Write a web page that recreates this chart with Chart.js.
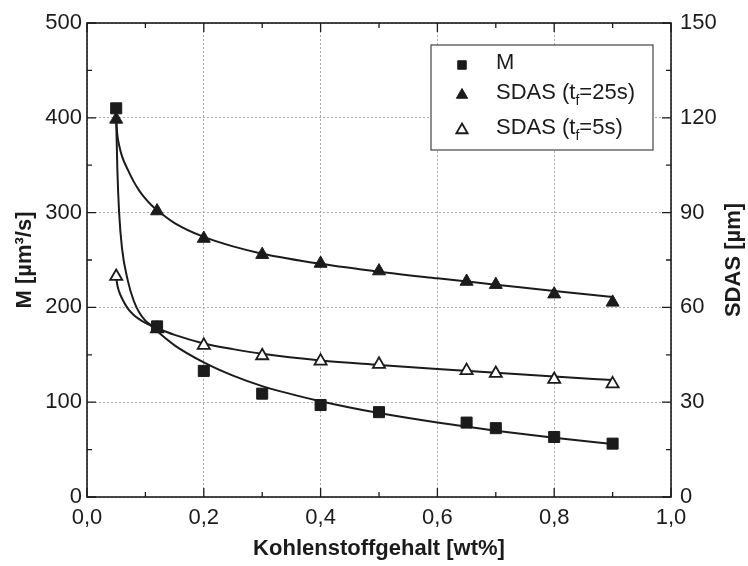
<!DOCTYPE html>
<html>
<head>
<meta charset="utf-8">
<script src="https://cdn.jsdelivr.net/npm/chart.js@4"></script>
<style>
  html, body { margin: 0; padding: 0; background: #fff; }
</style>
</head>
<body>
<canvas id="chart" width="748" height="566"></canvas>
<script>
// Kohlenstoffgehalt [wt%]
const carbon = [0.05, 0.12, 0.2, 0.3, 0.4, 0.5, 0.65, 0.7, 0.8, 0.9];
// M [µm³/s] (linke Achse)
const mValues = [410, 180, 133, 109, 97, 89.5, 78.5, 72.6, 63.3, 56.3];
// SDAS [µm] (rechte Achse)
const sdas25 = [119.5, 90.5, 81.8, 76.7, 73.9, 71.5, 68.2, 67.2, 64.2, 61.6];
const sdas5 = [69.8, 53.2, 48, 44.7, 43, 42, 40, 39.1, 37.2, 35.8];

// Fitkurven, abgetastet
const fitX = [0.05, 0.052, 0.055, 0.06, 0.07, 0.08, 0.09, 0.1, 0.11, 0.12, 0.15, 0.2, 0.25, 0.3, 0.4, 0.5, 0.6, 0.7, 0.8, 0.9];
const fitM = [398, 345, 300, 262, 228, 207, 194, 186, 181, 175, 160, 142, 128, 117, 101, 88.5, 78.5, 70, 62.5, 56];
const fit25 = [119.5, 114.5, 111.3, 107.8, 103.5, 99.8, 96.8, 94.4, 92.4, 90.8, 86.7, 82.3, 79.3, 77, 73.8, 71.3, 69.2, 67.2, 65.2, 63.3];
const fit5 = [69.5, 67, 65, 62.8, 59.6, 57.6, 56.2, 55.1, 54.2, 53.4, 51.3, 48.6, 46.8, 45.3, 43.2, 41.8, 40.5, 39.3, 38.1, 37];

const xTicks = [0, 0.2, 0.4, 0.6, 0.8, 1.0];

const FONT = '"Liberation Sans", Arial, sans-serif';
const INK = '#1b1b1b';

const pts = (xs, ys) => xs.map((x, i) => ({ x: x, y: ys[i] }));

const fitLine = (data, axis) => ({
    type: 'line',
    data: data,
    yAxisID: axis,
    showLine: true,
    borderColor: INK,
    borderWidth: 2,
    pointRadius: 0,
    cubicInterpolationMode: 'monotone',
    fill: false,
    order: 2
});

// Rahmen, Ticks nach innen, Legende, rechter Achsentitel
const decor = {
    id: 'decor',
    afterDatasetsDraw(chart) {
        const ctx = chart.ctx;
        const a = chart.chartArea;
        const sx = chart.scales.x, sy = chart.scales.y;

        // Legende
        const lx = 431, ly = 45, lw = 222, lh = 105;
        ctx.save();
        ctx.fillStyle = '#fff';
        ctx.fillRect(lx, ly, lw, lh);
        ctx.strokeStyle = '#444';
        ctx.lineWidth = 1.2;
        ctx.strokeRect(lx, ly, lw, lh);

        const rows = [
            { y: 63, style: 'rect', fill: INK, bw: 1, r: 6, txt: ['M'] },
            { y: 93, style: 'triangle', fill: INK, bw: 1, r: 6.5, txt: ['SDAS (t', 'f', '=25s)'] },
            { y: 128, style: 'triangle', fill: '#fff', bw: 1.8, r: 6.5, txt: ['SDAS (t', 'f', '=5s)'] }
        ];
        rows.forEach(row => {
            ctx.fillStyle = row.fill;
            ctx.strokeStyle = INK;
            ctx.lineWidth = row.bw;
            Chart.helpers.drawPoint(ctx, { pointStyle: row.style, radius: row.r, borderWidth: row.bw }, 462, row.y + 2);
            ctx.fillStyle = INK;
            ctx.textBaseline = 'middle';
            ctx.textAlign = 'left';
            let x = 496;
            row.txt.forEach((t, i) => {
                if (i === 1) {
                    ctx.font = '14px ' + FONT;
                    ctx.fillText(t, x, row.y + 8);
                } else {
                    ctx.font = '22px ' + FONT;
                    ctx.fillText(t, x, row.y);
                }
                x += ctx.measureText(t).width;
            });
        });

        // Rahmen
        ctx.strokeStyle = INK;
        ctx.lineWidth = 1.6;
        ctx.strokeRect(a.left, a.top, a.right - a.left, a.bottom - a.top);

        // Ticks
        ctx.lineWidth = 1.3;
        ctx.beginPath();
        for (let v = 0; v <= 1.0001; v += 0.1) {
            const px = sx.getPixelForValue(v);
            const len = Math.round(v * 10) % 2 === 0 ? 9 : 5;
            ctx.moveTo(px, a.bottom); ctx.lineTo(px, a.bottom - len);
            ctx.moveTo(px, a.top); ctx.lineTo(px, a.top + len);
        }
        for (let v = 0; v <= 500; v += 50) {
            const py = sy.getPixelForValue(v);
            const len = v % 100 === 0 ? 9 : 5;
            ctx.moveTo(a.left, py); ctx.lineTo(a.left + len, py);
        }
        const sy2 = chart.scales.y2;
        for (let v = 0; v <= 150; v += 15) {
            const py = sy2.getPixelForValue(v);
            const len = v % 30 === 0 ? 9 : 5;
            ctx.moveTo(a.right, py); ctx.lineTo(a.right - len, py);
        }
        ctx.stroke();

        // rechter Achsentitel, von unten nach oben gelesen
        ctx.translate(734, (a.top + a.bottom) / 2);
        ctx.rotate(-Math.PI / 2);
        ctx.font = 'bold 22px ' + FONT;
        ctx.textAlign = 'center';
        ctx.textBaseline = 'middle';
        ctx.fillStyle = INK;
        ctx.fillText('SDAS [µm]', 0, 0);
        ctx.restore();
    }
};

const gridOpts = { color: '#a8a8a8', lineWidth: 1, drawTicks: false };

new Chart(document.getElementById('chart'), {
    type: 'scatter',
    data: {
        datasets: [
            {
                label: 'M',
                data: pts(carbon, mValues),
                yAxisID: 'y',
                pointStyle: 'rect',
                pointRadius: 7.8,
                backgroundColor: INK,
                borderColor: INK,
                borderWidth: 1,
                order: 0
            },
            {
                label: 'SDAS (tf=25s)',
                data: pts(carbon, sdas25),
                yAxisID: 'y2',
                pointStyle: 'triangle',
                pointRadius: 7.5,
                backgroundColor: INK,
                borderColor: INK,
                borderWidth: 1,
                order: 0
            },
            {
                label: 'SDAS (tf=5s)',
                data: pts(carbon, sdas5),
                yAxisID: 'y2',
                pointStyle: 'triangle',
                pointRadius: 7,
                backgroundColor: '#fff',
                borderColor: INK,
                borderWidth: 1.8,
                order: 1
            },
            fitLine(pts(fitX, fitM), 'y'),
            fitLine(pts(fitX, fit25), 'y2'),
            fitLine(pts(fitX, fit5), 'y2')
        ]
    },
    options: {
        responsive: false,
        animation: false,
        events: [],
        layout: { padding: { top: 23 } },
        plugins: { legend: { display: false }, tooltip: { enabled: false } },
        scales: {
            x: {
                type: 'linear',
                min: 0, max: 1,
                afterFit(s) { s.height = 69; },
                afterBuildTicks(s) { s.ticks = xTicks.map(v => ({ value: v })); },
                grid: gridOpts,
                border: { display: false, dash: [2, 2] },
                ticks: {
                    padding: 8,
                    color: INK,
                    font: { family: FONT, size: 22 },
                    callback: v => v.toFixed(1).replace('.', ',')
                },
                title: {
                    display: true,
                    text: 'Kohlenstoffgehalt [wt%]',
                    color: INK,
                    font: { family: FONT, size: 22, weight: 'bold' },
                    padding: { top: 0, bottom: 4 }
                }
            },
            y: {
                position: 'left',
                min: 0, max: 500,
                afterFit(s) { s.width = 87; },
                grid: gridOpts,
                border: { display: false, dash: [2, 2] },
                ticks: {
                    stepSize: 100,
                    padding: 5,
                    color: INK,
                    font: { family: FONT, size: 22 }
                },
                title: {
                    display: true,
                    text: 'M [µm³/s]',
                    color: INK,
                    font: { family: FONT, size: 22, weight: 'bold' },
                    padding: { top: 12, bottom: 0 }
                }
            },
            y2: {
                position: 'right',
                min: 0, max: 150,
                afterFit(s) { s.width = 77; },
                grid: { display: false, drawTicks: false },
                border: { display: false },
                ticks: {
                    stepSize: 30,
                    padding: 9,
                    color: INK,
                    font: { family: FONT, size: 22 }
                }
            }
        }
    },
    plugins: [decor]
});
</script>
</body>
</html>
